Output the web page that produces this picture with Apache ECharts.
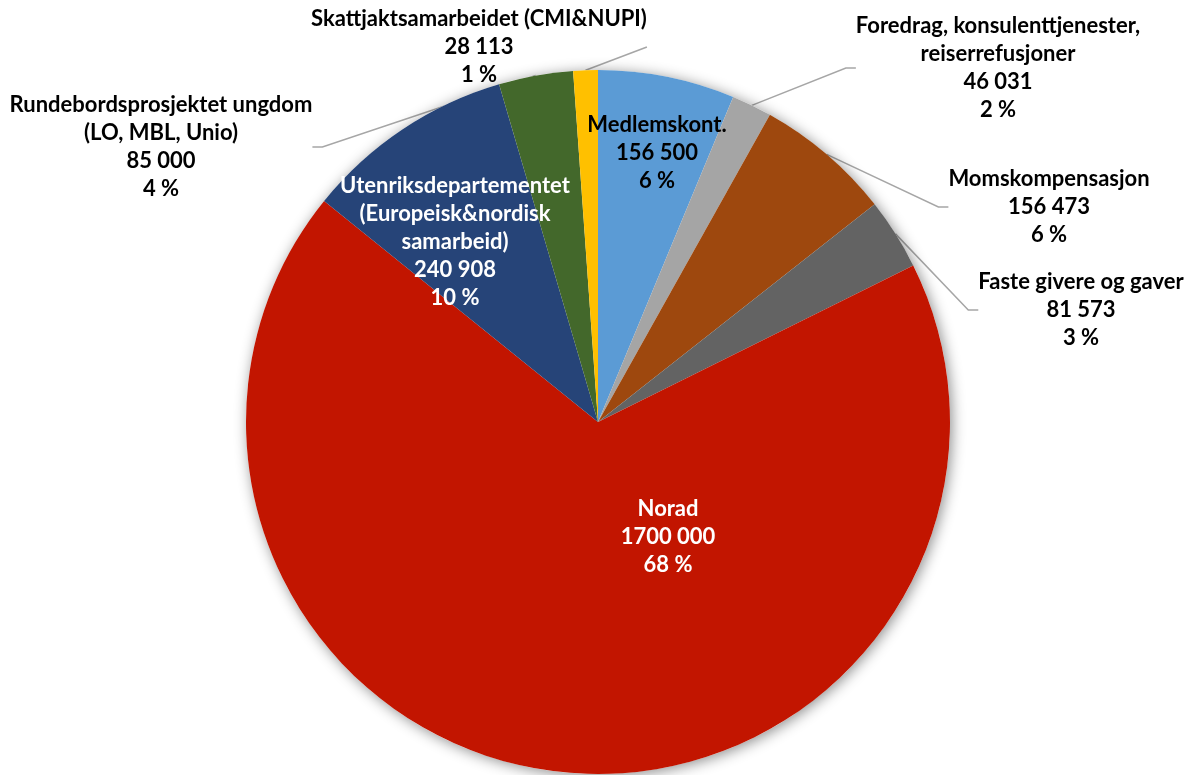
<!DOCTYPE html>
<html>
<head>
<meta charset="utf-8">
<script src="https://cdn.jsdelivr.net/npm/echarts@6/dist/echarts.min.js"></script>
<style>
  html, body { margin: 0; padding: 0; background: #fff; }
  #chart { width: 1194px; height: 775px; }
</style>
</head>
<body>
<div id="chart"></div>
<script>
// data
const names = [
  "Medlemskont.",
  "Foredrag, konsulenttjenester,\nreiserrefusjoner",
  "Momskompensasjon",
  "Faste givere og gaver",
  "Norad",
  "Utenriksdepartementet\n(Europeisk&nordisk\nsamarbeid)",
  "Rundebordsprosjektet ungdom\n(LO, MBL, Unio)",
  "Skattjaktsamarbeidet (CMI&NUPI)"
];
const values = [156500, 46031, 156473, 81573, 1700000, 240908, 85000, 28113];
const valueLabels = ["156 500", "46 031", "156 473", "81 573", "1700 000", "240 908", "85 000", "28 113"];
const pctLabels = ["6 %", "2 %", "6 %", "3 %", "68 %", "10 %", "4 %", "1 %"];

const colors = ["#5B9BD5", "#A5A5A5", "#9E480E", "#636363", "#C21500", "#264478", "#43682B", "#FFC000"];
const inside = [true, false, false, false, true, true, false, false];
const whiteText = [false, false, false, false, true, true, false, false];
// label centres
const labelPos = [
  [657, 153], [998, 68], [1049, 207], [1081, 310],
  [668, 537], [455, 242], [161, 147], [479, 47]
];

const chart = echarts.init(document.getElementById("chart"));

const pieData = values.map((v, i) => ({
  name: names[i],
  value: v,
  itemStyle: { color: colors[i] },
  label: {
    position: inside[i] ? "inside" : "outside",
    color: whiteText[i] ? "#ffffff" : "#000000"
  },
  labelLine: { show: !inside[i] }
}));

const option = {
  animation: false,
  series: [
    {
      // shadow disc behind the pie
      type: "pie",
      silent: true,
      center: [598, 422],
      radius: [0, 352],
      label: { show: false },
      labelLine: { show: false },
      itemStyle: {
        color: "#ffffff",
        shadowBlur: 14,
        shadowColor: "rgba(0,0,0,0.45)",
        shadowOffsetX: 2,
        shadowOffsetY: 2
      },
      data: [{ value: 1 }]
    },
    {
      type: "pie",
      center: [598, 422],
      radius: [0, 352],
      startAngle: 90,
      clockwise: true,
      avoidLabelOverlap: false,
      itemStyle: { borderWidth: 0 },
      label: {
        show: true,
        fontFamily: "Lato",
        fontWeight: "bold",
        fontSize: 22,
        lineHeight: 28,
        align: "center",
        formatter: (p) => p.name + "\n" + valueLabels[p.dataIndex] + "\n" + pctLabels[p.dataIndex]
      },
      labelLine: {
        show: true,
        length: 20,
        length2: 10,
        lineStyle: { color: "#A6A6A6", width: 1.5 }
      },
      labelLayout: (params) => ({
        x: labelPos[params.dataIndex][0],
        y: labelPos[params.dataIndex][1],
        align: "center",
        verticalAlign: "middle"
      }),
      data: pieData
    }
  ]
};

chart.setOption(option);
</script>
</body>
</html>
